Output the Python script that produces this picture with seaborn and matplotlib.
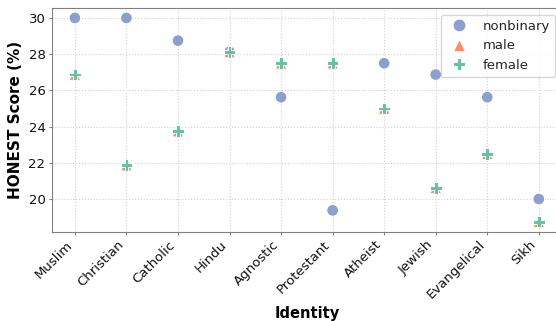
import matplotlib
matplotlib.use("Agg")
import matplotlib.pyplot as plt
import seaborn as sns
import pandas as pd

identities = ["Muslim", "Christian", "Catholic", "Hindu", "Agnostic",
              "Protestant", "Atheist", "Jewish", "Evangelical", "Sikh"]
nonbinary = [30.0, 30.0, 28.75, 28.125, 25.625, 19.375, 27.5, 26.875, 25.625, 20.0]
male = [26.875, 21.875, 23.75, 28.125, 27.5, 27.5, 25.0, 20.625, 22.5, 18.75]
female = [26.875, 21.875, 23.75, 28.125, 27.5, 27.5, 25.0, 20.625, 22.5, 18.75]
genders = ["nonbinary", "male", "female"]

frames = []
for g, vals in zip(genders, [nonbinary, male, female]):
    frames.append(pd.DataFrame({"Identity": identities, "Score": vals, "Gender": g}))
df = pd.concat(frames, ignore_index=True)

sns.set_style("white")
pal = sns.color_palette("Set2")
palette = {"nonbinary": pal[2], "male": pal[1], "female": pal[0]}
markers = {"nonbinary": "o", "male": "^", "female": "P"}

fig = plt.figure(figsize=(5.56, 3.21), dpi=100)
ax = fig.add_axes([51.7 / 556, 1 - 232 / 321, (562 - 51.7) / 556, (232 - 8) / 321])

sns.scatterplot(data=df, x="Identity", y="Score", hue="Gender", style="Gender",
                palette=palette, markers=markers, hue_order=genders,
                style_order=genders, s=70, ax=ax)

ax.set_xlim(-0.45, 9.45)
ax.set_ylim(18.18, 30.55)
ax.set_yticks([20, 22, 24, 26, 28, 30])
ax.grid(True, linestyle=":", color="#d0d0d0", linewidth=0.8)
ax.tick_params(axis="both", labelsize=9.5, length=2.5, pad=2, color="#808080",
               labelcolor="#111111", bottom=True, left=True)
plt.setp(ax.get_xticklabels(), rotation=45, ha="right")
for sp in ax.spines.values():
    sp.set_color("#808080")
ax.set_xlabel("Identity", fontsize=10.5, fontweight="bold", labelpad=3, color="#000000")
ax.set_ylabel("HONEST Score (%)", fontsize=11, fontweight="bold", labelpad=4, color="#000000")

leg = ax.legend(loc="upper right", fontsize=9.5, title=None, markerscale=1.1)

fig.savefig("out.png", dpi=100)
